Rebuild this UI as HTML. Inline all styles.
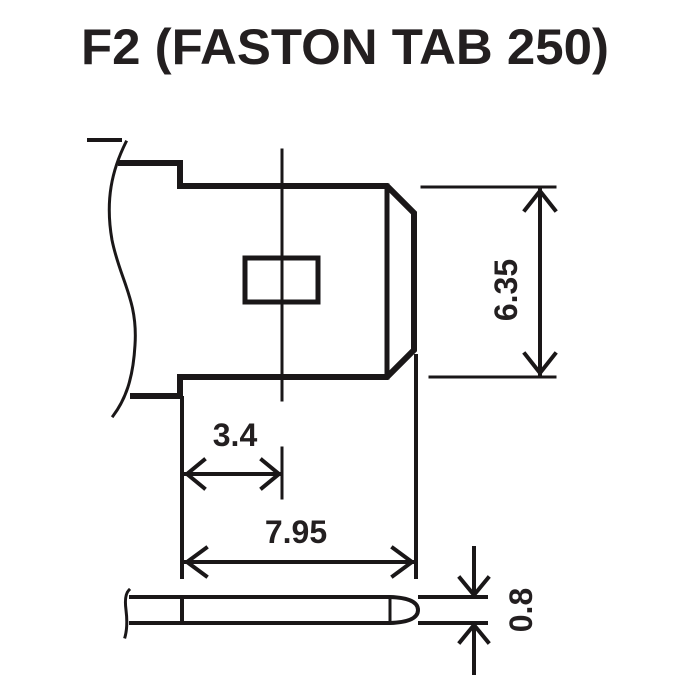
<!DOCTYPE html>
<html><head><style>body{margin:0;background:#fff}svg{display:block}</style></head><body>
<svg width="700" height="700" viewBox="0 0 700 700" xmlns="http://www.w3.org/2000/svg">
<text x="345" y="64" text-anchor="middle" font-family="Liberation Sans, sans-serif" font-weight="bold" font-size="50" textLength="528" lengthAdjust="spacingAndGlyphs" fill="#231f20">F2 (FASTON TAB 250)</text>
<g stroke="#1a1718" fill="none" stroke-linecap="square">
<line x1="89" y1="140" x2="120" y2="140" stroke-width="4"/>
<path d="M126,142 C112,170 105,200 112,240 C120,280 138,300 135,345 C133,380 125,400 113,416" stroke-width="3"/>
<path d="M121,163 H180 V186 H387 L414,213 V350 L387,377 H180 V396 H133" stroke-width="6" stroke-linejoin="miter"/>
<line x1="387" y1="186" x2="387" y2="377" stroke-width="5"/>
<line x1="282" y1="150" x2="282" y2="400" stroke-width="3"/>
<line x1="282" y1="448" x2="282" y2="498" stroke-width="3"/>
<rect x="245" y="258" width="73" height="44" stroke-width="5"/>
<line x1="422" y1="187" x2="555" y2="187" stroke-width="3"/>
<line x1="430" y1="377" x2="555" y2="377" stroke-width="3"/>
<line x1="540" y1="190" x2="540" y2="374" stroke-width="4"/>
<path d="M525,210 L540,191 L555,210 M525,354 L540,373 L555,354" stroke-width="4"/>
<line x1="416" y1="356" x2="416" y2="577" stroke-width="4"/>
<line x1="182" y1="398" x2="182" y2="577" stroke-width="4"/>
<line x1="186" y1="474" x2="280" y2="474" stroke-width="4"/>
<path d="M204,460 L187,474 L204,488 M262,460 L279,474 L262,488" stroke-width="4"/>
<line x1="186" y1="562" x2="413" y2="562" stroke-width="4"/>
<path d="M206,548 L187,562 L206,576 M393,548 L412,562 L393,576" stroke-width="4"/>
<path d="M131,597 H390 Q418,598 418,610 Q418,622 390,623 H131" stroke-width="4"/>
<path d="M129,590 Q124,595 126,610 Q128,626 125,637" stroke-width="3"/>
<line x1="182" y1="597" x2="182" y2="623" stroke-width="4"/>
<line x1="390" y1="597" x2="390" y2="623" stroke-width="3"/>
<line x1="420" y1="597" x2="486" y2="597" stroke-width="4"/>
<line x1="420" y1="623" x2="486" y2="623" stroke-width="4"/>
<line x1="474" y1="548" x2="474" y2="595" stroke-width="4"/>
<line x1="474" y1="625" x2="474" y2="673" stroke-width="4"/>
<path d="M460,578 L474,595 L488,578 M460,642 L474,625 L488,642" stroke-width="4"/>
</g>
<g font-family="Liberation Sans, sans-serif" font-weight="bold" font-size="32" fill="#231f20">
<text x="235" y="446" text-anchor="middle">3.4</text>
<text x="296" y="543" text-anchor="middle">7.95</text>
<text transform="translate(517,290) rotate(-90)" text-anchor="middle">6.35</text>
<text transform="translate(532,610) rotate(-90)" text-anchor="middle">0.8</text>
</g>
</svg>
</body></html>
